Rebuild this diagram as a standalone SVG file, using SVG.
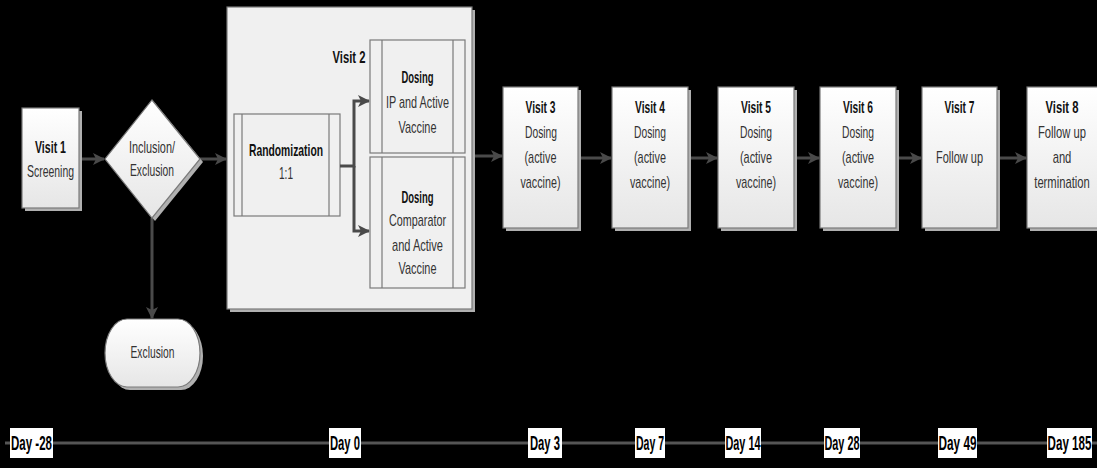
<svg xmlns="http://www.w3.org/2000/svg" width="1097" height="468" viewBox="0 0 1097 468">
<defs>
<linearGradient id="g" x1="0" y1="0" x2="0" y2="1"><stop offset="0" stop-color="#ffffff"/><stop offset="1" stop-color="#e6e6e6"/></linearGradient>
<marker id="ah" markerWidth="12" markerHeight="12" refX="11" refY="6" orient="auto" markerUnits="userSpaceOnUse"><path d="M0,0 L12,6 L0,12 L3,6 Z" fill="#4a4a4a"/></marker>
<style>
.box{fill:url(#g);stroke:#7a7a7a;stroke-width:1.2}
.flat{fill:#f0f0f0;stroke:#7a7a7a;stroke-width:1.2}
.sh{fill:#b0b0b0}
.t{font-family:"Liberation Sans",Arial,sans-serif;font-size:17px;fill:#333;text-anchor:middle}
.b{font-weight:bold;fill:#111}
.c{stroke:#4a4a4a;stroke-width:3;fill:none}
.in{stroke:#7a7a7a;stroke-width:1.2}
.tl{stroke:#555;stroke-width:3}
.lb{fill:#fff}
.d{font-family:"Liberation Sans",Arial,sans-serif;font-size:20px;font-weight:bold;fill:#000;text-anchor:middle}
</style>
</defs>
<rect width="1097" height="468" fill="#000"/>

<g id="connectors">
<line class="c" x1="80" y1="159" x2="104" y2="159" marker-end="url(#ah)"/>
<line class="c" x1="200" y1="159" x2="226" y2="159" marker-end="url(#ah)"/>
<line class="c" x1="152" y1="218" x2="152" y2="318" marker-end="url(#ah)"/>
<line class="c" x1="473" y1="156" x2="502" y2="156" marker-end="url(#ah)"/>
<line class="c" x1="579" y1="158" x2="611" y2="158" marker-end="url(#ah)"/>
<line class="c" x1="689" y1="158" x2="717" y2="158" marker-end="url(#ah)"/>
<line class="c" x1="796" y1="158" x2="819" y2="158" marker-end="url(#ah)"/>
<line class="c" x1="897" y1="158" x2="921" y2="158" marker-end="url(#ah)"/>
<line class="c" x1="998" y1="158" x2="1026" y2="158" marker-end="url(#ah)"/>
</g>

<g id="visit1">
<rect class="sh" x="25" y="111" width="57" height="100"/>
<rect class="box" x="22" y="108" width="57" height="100"/>
<text class="t b" x="50.5" y="153" textLength="31" lengthAdjust="spacingAndGlyphs">Visit 1</text>
<text class="t" x="50.5" y="177" textLength="47" lengthAdjust="spacingAndGlyphs">Screening</text>
</g>

<g id="inclusion">
<polygon class="sh" points="155,103 203,162 155,221 108,162"/>
<polygon class="box" points="152,100 200,159 152,218 105,159"/>
<text class="t" x="152" y="153" textLength="46" lengthAdjust="spacingAndGlyphs">Inclusion/</text>
<text class="t" x="152" y="176" textLength="44" lengthAdjust="spacingAndGlyphs">Exclusion</text>
</g>

<g id="exclusion">
<rect class="sh" x="108" y="322" width="95" height="68" rx="22" ry="34"/>
<rect class="box" x="105" y="319" width="95" height="68" rx="22" ry="34"/>
<text class="t" x="152.5" y="358" textLength="44" lengthAdjust="spacingAndGlyphs">Exclusion</text>
</g>

<g id="visit2">
<rect class="sh" x="230" y="10" width="245" height="302"/>
<rect class="flat" x="227" y="7" width="245" height="302"/>
<text class="t b" x="349" y="63" textLength="33" lengthAdjust="spacingAndGlyphs">Visit 2</text>
</g>

<g id="randomization">
<rect class="flat" x="234" y="114" width="106" height="102"/>
<line class="in" x1="242" y1="114" x2="242" y2="216"/>
<line class="in" x1="329" y1="114" x2="329" y2="216"/>
<text class="t b" x="286" y="156" textLength="74" lengthAdjust="spacingAndGlyphs">Randomization</text>
<text class="t" x="286" y="179" textLength="14" lengthAdjust="spacingAndGlyphs">1:1</text>
</g>

<g id="rand-connectors">
<polyline class="c" points="340,166 354,166 354,101 369,101" marker-end="url(#ah)"/>
<polyline class="c" points="354,166 354,231 369,231" marker-end="url(#ah)"/>
</g>

<g id="dosing-ip">
<rect class="flat" x="370" y="40" width="95" height="113"/>
<line class="in" x1="382" y1="40" x2="382" y2="153"/>
<line class="in" x1="453" y1="40" x2="453" y2="153"/>
<text class="t b" x="417.5" y="83" textLength="32" lengthAdjust="spacingAndGlyphs">Dosing</text>
<text class="t" x="417.5" y="108" textLength="63" lengthAdjust="spacingAndGlyphs">IP and Active</text>
<text class="t" x="417.5" y="133" textLength="38" lengthAdjust="spacingAndGlyphs">Vaccine</text>
</g>

<g id="dosing-comp">
<rect class="flat" x="370" y="157" width="95" height="131"/>
<line class="in" x1="382" y1="157" x2="382" y2="288"/>
<line class="in" x1="453" y1="157" x2="453" y2="288"/>
<text class="t b" x="417.5" y="203" textLength="32" lengthAdjust="spacingAndGlyphs">Dosing</text>
<text class="t" x="417.5" y="226" textLength="57" lengthAdjust="spacingAndGlyphs">Comparator</text>
<text class="t" x="417.5" y="251" textLength="51" lengthAdjust="spacingAndGlyphs">and Active</text>
<text class="t" x="417.5" y="274" textLength="38" lengthAdjust="spacingAndGlyphs">Vaccine</text>
</g>

<g id="visit3">
<rect class="sh" x="506" y="90" width="75" height="141"/>
<rect class="box" x="503" y="87" width="75" height="141"/>
<text class="t b" x="540.5" y="113" textLength="30" lengthAdjust="spacingAndGlyphs">Visit 3</text>
<text class="t" x="541" y="138" textLength="32" lengthAdjust="spacingAndGlyphs">Dosing</text>
<text class="t" x="540.5" y="163" textLength="32" lengthAdjust="spacingAndGlyphs">(active</text>
<text class="t" x="540.5" y="188" textLength="40" lengthAdjust="spacingAndGlyphs">vaccine)</text>
</g>

<g id="visit4">
<rect class="sh" x="615" y="90" width="76" height="141"/>
<rect class="box" x="612" y="87" width="76" height="141"/>
<text class="t b" x="650" y="113" textLength="30" lengthAdjust="spacingAndGlyphs">Visit 4</text>
<text class="t" x="650" y="138" textLength="32" lengthAdjust="spacingAndGlyphs">Dosing</text>
<text class="t" x="650" y="163" textLength="32" lengthAdjust="spacingAndGlyphs">(active</text>
<text class="t" x="650" y="188" textLength="40" lengthAdjust="spacingAndGlyphs">vaccine)</text>
</g>

<g id="visit5">
<rect class="sh" x="721" y="90" width="76" height="141"/>
<rect class="box" x="718" y="87" width="76" height="141"/>
<text class="t b" x="756" y="113" textLength="30" lengthAdjust="spacingAndGlyphs">Visit 5</text>
<text class="t" x="756" y="138" textLength="32" lengthAdjust="spacingAndGlyphs">Dosing</text>
<text class="t" x="756" y="163" textLength="32" lengthAdjust="spacingAndGlyphs">(active</text>
<text class="t" x="756" y="188" textLength="40" lengthAdjust="spacingAndGlyphs">vaccine)</text>
</g>

<g id="visit6">
<rect class="sh" x="823" y="90" width="76" height="141"/>
<rect class="box" x="820" y="87" width="76" height="141"/>
<text class="t b" x="858" y="113" textLength="30" lengthAdjust="spacingAndGlyphs">Visit 6</text>
<text class="t" x="858" y="138" textLength="32" lengthAdjust="spacingAndGlyphs">Dosing</text>
<text class="t" x="858" y="163" textLength="32" lengthAdjust="spacingAndGlyphs">(active</text>
<text class="t" x="858" y="188" textLength="40" lengthAdjust="spacingAndGlyphs">vaccine)</text>
</g>

<g id="visit7">
<rect class="sh" x="925" y="90" width="75" height="141"/>
<rect class="box" x="922" y="87" width="75" height="141"/>
<text class="t b" x="959.5" y="113" textLength="30" lengthAdjust="spacingAndGlyphs">Visit 7</text>
<text class="t" x="959.5" y="163" textLength="47" lengthAdjust="spacingAndGlyphs">Follow up</text>
</g>

<g id="visit8">
<rect class="sh" x="1030" y="90" width="72" height="141"/>
<rect class="box" x="1027" y="87" width="72" height="141"/>
<g transform="translate(1062,0) scale(0.66,1)">
<text class="t b" x="0" y="113">Visit 8</text>
<text class="t" x="0" y="138">Follow up</text>
<text class="t" x="0" y="163">and</text>
<text class="t" x="0" y="188">termination</text>
</g>
</g>

<g id="timeline">
<line class="tl" x1="5" y1="443" x2="1097" y2="443"/>
<rect class="lb" x="10" y="428" width="43" height="30"/><text class="d" x="31.5" y="450" textLength="41" lengthAdjust="spacingAndGlyphs">Day -28</text>
<rect class="lb" x="329" y="428" width="32" height="30"/><text class="d" x="345" y="450" textLength="30" lengthAdjust="spacingAndGlyphs">Day 0</text>
<rect class="lb" x="528" y="428" width="34" height="30"/><text class="d" x="545" y="450" textLength="30" lengthAdjust="spacingAndGlyphs">Day 3</text>
<rect class="lb" x="635" y="428" width="30" height="30"/><text class="d" x="650" y="450" textLength="28" lengthAdjust="spacingAndGlyphs">Day 7</text>
<rect class="lb" x="725" y="428" width="36" height="30"/><text class="d" x="743" y="450" textLength="35" lengthAdjust="spacingAndGlyphs">Day 14</text>
<rect class="lb" x="824" y="428" width="36" height="30"/><text class="d" x="842" y="450" textLength="35" lengthAdjust="spacingAndGlyphs">Day 28</text>
<rect class="lb" x="938" y="428" width="39" height="30"/><text class="d" x="957.5" y="450" textLength="38" lengthAdjust="spacingAndGlyphs">Day 49</text>
<rect class="lb" x="1047" y="428" width="45" height="30"/><text class="d" transform="translate(1069.5,0) scale(0.58,1)" x="0" y="450">Day 185</text>
</g>
</svg>
